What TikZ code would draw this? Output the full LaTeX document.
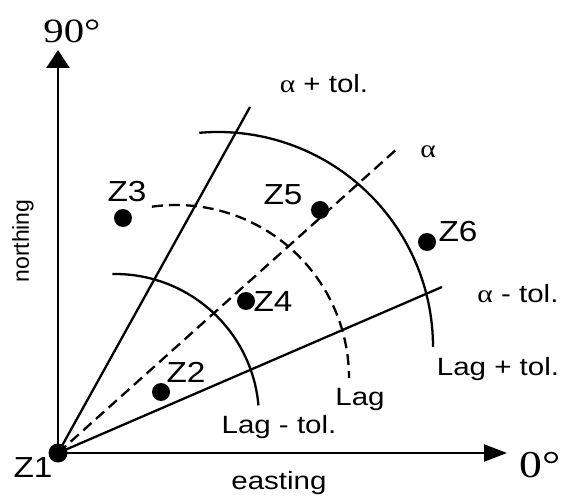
\documentclass[tikz,border=0pt]{standalone}
\usepackage{fontspec}
\setmainfont{Liberation Sans}
\newfontfamily\serifx{Liberation Serif}
\usetikzlibrary{arrows.meta}
\newcommand\hstr[1]{\scalebox{1.18}[1]{#1}}
\newcommand\zstr[1]{\scalebox{1.15}[1]{#1}}
\begin{document}
\begin{tikzpicture}[x=1pt,y=1pt, line width=2.3pt,
  zdot/.style={circle,fill=black,inner sep=0pt,minimum size=18pt},
  zlab/.style={anchor=base,inner sep=0pt,font=\fontsize{29}{32}\selectfont},
  lab/.style={anchor=base,inner sep=0pt,font=\fontsize{25}{28}\selectfont},
  dashline/.style={dash pattern=on 11pt off 6pt}]
\useasboundingbox (0,0) rectangle (561,495);
% coordinates
\coordinate (o) at (58,42);
\coordinate (ytip) at (58,445);
\coordinate (xtip) at (507,42);
\coordinate (aplus) at (250,388);
\coordinate (amid) at (398,347);
\coordinate (aminus) at (442,208);
% axes
\draw[-{Triangle[width=23pt,length=18pt]}] (o) -- (ytip);
\draw[-{Triangle[width=17pt,length=23pt]}] (o) -- (xtip);
% direction lines
\draw (o) -- (aplus);
\draw[dashline] (o) -- (amid);
\draw (o) -- (aminus);
% lag arcs
\draw ([shift={(91:144)}]115,77) arc[start angle=91, end angle=5, radius=144];
\draw[dashline] ([shift={(98:173)}]176,117) arc[start angle=98, end angle=0, radius=173];
\draw ([shift={(95:215)}]218,148) arc[start angle=95, end angle=0, radius=215];
% points
\node[zdot,minimum size=19pt] (z1) at (o) {};
\node[zdot] (z2) at (161,103) {};
\node[zdot] (z3) at (123,277) {};
\node[zdot] (z4) at (246,194) {};
\node[zdot] (z5) at (320,285) {};
\node[zdot] (z6) at (427,253) {};
% point labels
\node[zlab] (l1) at (33,18) {\zstr{Z1}};
\node[zlab] (l2) at (186,113) {\zstr{Z2}};
\node[zlab] (l3) at (127,293) {\zstr{Z3}};
\node[zlab] (l4) at (273,183) {\zstr{Z4}};
\node[zlab] (l5) at (283,290) {\zstr{Z5}};
\node[zlab] (l6) at (458,253) {\zstr{Z6}};
% other labels
\node[lab] (tap) at (324,402) {\hstr{{\serifx α} + tol.}};
\node[lab] (ta) at (428,337) {\hstr{\serifx α}};
\node[lab] (tam) at (518,192) {\hstr{{\serifx α} - tol.}};
\node[lab] (tlp) at (498,120) {\hstr{Lag + tol.}};
\node[lab] (tl) at (360,90) {\hstr{Lag}};
\node[lab] (tlm) at (279,62) {\hstr{Lag - tol.}};
\node[lab] (east) at (279,6) {\hstr{easting}};
\node[inner sep=0pt,rotate=90,font=\fontsize{23}{26}\selectfont] (north) at (23,254) {northing};
\node[anchor=base,inner sep=0pt,font=\serifx\fontsize{34}{36}\selectfont] (n90) at (72,452) {\scalebox{1.2}[1]{90°}};
\node[anchor=base,inner sep=0pt,font=\serifx\fontsize{38}{40}\selectfont] (n0) at (540,18) {\scalebox{1.2}[1]{0°}};
\end{tikzpicture}
\end{document}
